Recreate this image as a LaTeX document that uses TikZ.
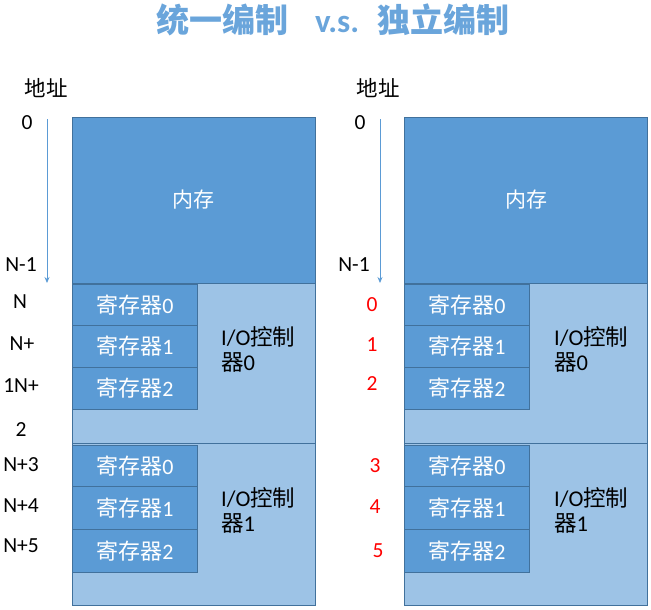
\documentclass[tikz,border=0pt]{standalone}
\usepackage{fontspec}
\setmainfont{Carlito}
\newfontfamily\cjk{Noto Sans CJK SC}
\usetikzlibrary{arrows.meta}
\definecolor{blueA}{HTML}{5B9BD5}
\definecolor{blueB}{HTML}{9DC3E6}
\definecolor{edgeC}{HTML}{41719C}
\definecolor{titleC}{HTML}{6AA5DB}
\begin{document}
\begin{tikzpicture}[x=1pt,y=-1pt,
  mem/.style={draw=edgeC,line width=1pt,fill=blueA},
  ctrl/.style={draw=edgeC,line width=1pt,fill=blueB},
  reg/.style={draw=edgeC,line width=1pt,fill=blueA},
  regtxt/.style={text=white,font=\fontsize{22}{24}\selectfont,inner sep=0pt},
  lbl/.style={font=\fontsize{21.5}{24}\selectfont,inner sep=0pt},
  redlbl/.style={font=\fontsize{21.5}{24}\selectfont,inner sep=0pt,text=red},
  ctxt/.style={font=\fontsize{22.5}{25}\selectfont,inner sep=0pt,align=left,anchor=north west},
  addr/.style={draw=blueA,line width=0.8pt,-{Stealth[length=6pt,width=5pt]}}]
\useasboundingbox (0,0) rectangle (651,610);
\node[font=\cjk\bfseries\fontsize{33}{36}\selectfont,text=titleC] (title) at (333,20) {统一编制\hspace{0.8em}{\fontspec{Carlito}\bfseries v.s.}\hspace{0.55em}独立编制};

% ---------- left panel ----------
\node[mem,minimum width=243pt,minimum height=166pt,inner sep=0pt,anchor=north west] (memL) at (72,117) {};
\node[text=white,font=\cjk\fontsize{21}{24}\selectfont] (memLt) at (193,200) {内存};
\node[ctrl,minimum width=243pt,minimum height=160pt,inner sep=0pt,anchor=north west] (c0L) at (72,283) {};
\node[ctrl,minimum width=243pt,minimum height=162pt,inner sep=0pt,anchor=north west] (c1L) at (72,443) {};
\foreach \i/\y/\h in {0/284/41,1/325/42,2/367/42}{
  \node[reg,minimum width=125pt,minimum height=\h pt,inner sep=0pt,anchor=north west] (rL0\i) at (72,\y) {};
  \node[regtxt] at (rL0\i.center) {{\cjk 寄存器}\i};
}
\foreach \i/\y/\h in {0/445/41,1/486/43,2/529/43}{
  \node[reg,minimum width=125pt,minimum height=\h pt,inner sep=0pt,anchor=north west] (rL1\i) at (72,\y) {};
  \node[regtxt] at (rL1\i.center) {{\cjk 寄存器}\i};
}
\node[ctxt] (c0Lt) at (221,326) {I/O{\cjk 控制}\\{\cjk 器}0};
\node[ctxt] (c1Lt) at (221,487) {I/O{\cjk 控制}\\{\cjk 器}1};
\node[lbl,font=\cjk\fontsize{21.5}{24}\selectfont] (addrL) at (46,88) {地址};
\coordinate (aLs) at (47,119);
\coordinate (aLe) at (47,283);
\draw[addr] (aLs) -- (aLe);
\node[lbl] (l0) at (27,123) {0};
\node[lbl] (l1) at (21,265) {N-1};
\node[lbl] (l2) at (20,302) {N};
\node[lbl] (l3) at (22,344) {N+};
\node[lbl] (l4) at (21,386) {1N+};
\node[lbl] (l5) at (21,430) {2};
\node[lbl] (l6) at (21,465) {N+3};
\node[lbl] (l7) at (21,506) {N+4};
\node[lbl] (l8) at (21,546) {N+5};

% ---------- right panel ----------
\node[mem,minimum width=243pt,minimum height=166pt,inner sep=0pt,anchor=north west] (memR) at (404,117) {};
\node[text=white,font=\cjk\fontsize{21}{24}\selectfont] (memRt) at (526,200) {内存};
\node[ctrl,minimum width=243pt,minimum height=160pt,inner sep=0pt,anchor=north west] (c0R) at (404,283) {};
\node[ctrl,minimum width=243pt,minimum height=162pt,inner sep=0pt,anchor=north west] (c1R) at (404,443) {};
\foreach \i/\y/\h in {0/284/41,1/325/42,2/367/42}{
  \node[reg,minimum width=125pt,minimum height=\h pt,inner sep=0pt,anchor=north west] (rR0\i) at (404,\y) {};
  \node[regtxt] at (rR0\i.center) {{\cjk 寄存器}\i};
}
\foreach \i/\y/\h in {0/445/41,1/486/43,2/529/43}{
  \node[reg,minimum width=125pt,minimum height=\h pt,inner sep=0pt,anchor=north west] (rR1\i) at (404,\y) {};
  \node[regtxt] at (rR1\i.center) {{\cjk 寄存器}\i};
}
\node[ctxt] (c0Rt) at (554,326) {I/O{\cjk 控制}\\{\cjk 器}0};
\node[ctxt] (c1Rt) at (554,487) {I/O{\cjk 控制}\\{\cjk 器}1};
\node[lbl,font=\cjk\fontsize{21.5}{24}\selectfont] (addrR) at (378,88) {地址};
\coordinate (aRs) at (380,119);
\coordinate (aRe) at (380,283);
\draw[addr] (aRs) -- (aRe);
\node[lbl] (r0) at (360,123) {0};
\node[lbl] (r1) at (354,265) {N-1};
\node[redlbl] (q0) at (372,305) {0};
\node[redlbl] (q1) at (372,345) {1};
\node[redlbl] (q2) at (372,384) {2};
\node[redlbl] (q3) at (375,466) {3};
\node[redlbl] (q4) at (375,507) {4};
\node[redlbl] (q5) at (378,551) {5};
\end{tikzpicture}
\end{document}
